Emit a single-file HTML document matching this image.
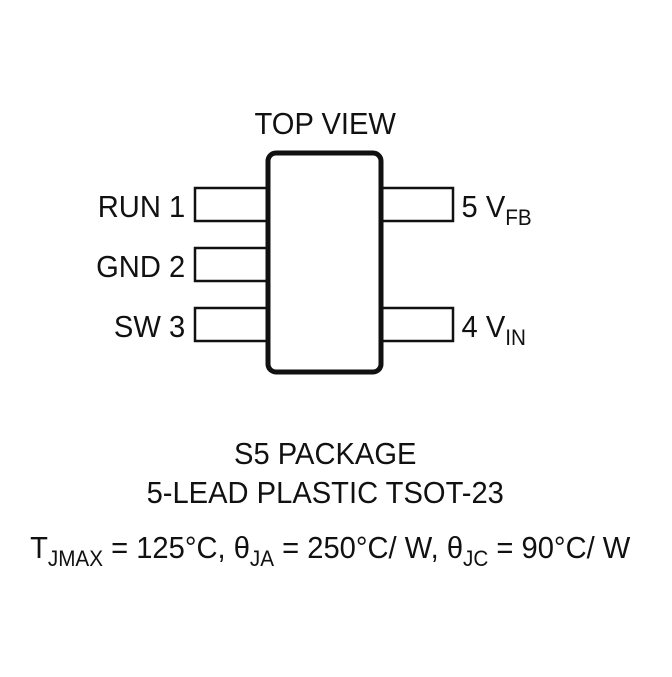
<!DOCTYPE html>
<html><head><style>
html,body{margin:0;padding:0;background:#fff;}
</style></head><body>
<svg width="672" height="672" xmlns="http://www.w3.org/2000/svg" font-family="Liberation Sans, sans-serif" fill="#111">
<rect x="0" y="0" width="672" height="672" fill="#fff"/>
<g fill="#fff" stroke="#111" stroke-width="2.5">
<rect x="195" y="188" width="72" height="33"/>
<rect x="195" y="248" width="72" height="33"/>
<rect x="195" y="308" width="72" height="33"/>
<rect x="382" y="188" width="71" height="33"/>
<rect x="382" y="308" width="71" height="33"/>
</g>
<rect x="268" y="153" width="113" height="219" rx="8" fill="#fff" stroke="#111" stroke-width="5"/>
<g font-size="31" transform="scale(0.94,1)">
<text x="346" y="134" text-anchor="middle">TOP VIEW</text>
<text x="197" y="217" text-anchor="end">RUN 1</text>
<text x="197" y="277" text-anchor="end">GND 2</text>
<text x="197" y="337" text-anchor="end">SW 3</text>
<text x="491" y="217">5 V<tspan font-size="22" dy="8">FB</tspan></text>
<text x="491" y="337">4 V<tspan font-size="22" dy="8">IN</tspan></text>
<text x="346" y="464" text-anchor="middle">S5 PACKAGE</text>
<text x="346" y="503" text-anchor="middle">5-LEAD PLASTIC TSOT-23</text>
<text x="32" y="558">T<tspan font-size="22" dy="8">JMAX</tspan><tspan dy="-8"> = 125°C, θ</tspan><tspan font-size="22" dy="8">JA</tspan><tspan dy="-8"> = 250°C/ W, θ</tspan><tspan font-size="22" dy="8">JC</tspan><tspan dy="-8"> = 90°C/ W</tspan></text>
</g>
</svg>
</body></html>
